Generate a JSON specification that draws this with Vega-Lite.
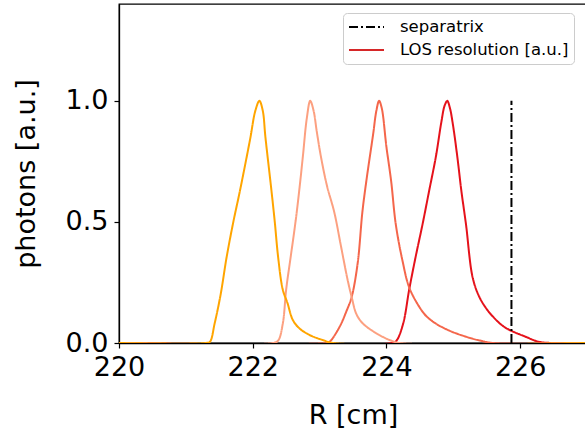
{
  "$schema": "https://vega.github.io/schema/vega-lite/v6.json",
  "width": 468,
  "height": 339,
  "autosize": {"type": "none"},
  "padding": {"left": 119, "top": 4, "right": 0, "bottom": 91},
  "background": "white",
  "config": {
    "font": "DejaVu Sans",
    "view": {"stroke": "black", "strokeWidth": 1.3},
    "axis": {
      "grid": false,
      "domainColor": "black",
      "domainWidth": 1.3,
      "tickColor": "black",
      "tickWidth": 1.2,
      "tickSize": 5,
      "labelColor": "black",
      "titleColor": "black",
      "labelFont": "DejaVu Sans",
      "titleFont": "DejaVu Sans",
      "labelFontSize": 27,
      "titleFontSize": 27,
      "titleFontWeight": "normal",
      "labelFlush": false,
      "labelOverlap": false
    },
    "legend": {
      "title": null,
      "orient": "none",
      "legendX": 224,
      "legendY": 9,
      "symbolType": "M-1,0H3.375",
      "symbolSize": 256,
      "symbolStrokeWidth": 2,
      "labelFontSize": 16.5,
      "labelFont": "DejaVu Sans",
      "labelColor": "black",
      "labelLimit": 400,
      "labelOffset": 34,
      "rowPadding": 5,
      "padding": 5,
      "strokeColor": "#cccccc",
      "fillColor": "white",
      "cornerRadius": 4
    }
  },
  "layer": [
    {
      "data": {
        "values": [
          {"R": 220, "y": 0, "series": "o4"},
          {"R": 224.08, "y": 0, "series": "o4"},
          {"R": 224.15, "y": 0.01, "series": "o4"},
          {"R": 224.25, "y": 0.08, "series": "o4"},
          {"R": 224.34, "y": 0.22, "series": "o4"},
          {"R": 224.44, "y": 0.36, "series": "o4"},
          {"R": 224.54, "y": 0.49, "series": "o4"},
          {"R": 224.64, "y": 0.63, "series": "o4"},
          {"R": 224.74, "y": 0.77, "series": "o4"},
          {"R": 224.82, "y": 0.91, "series": "o4"},
          {"R": 224.87, "y": 0.98, "series": "o4"},
          {"R": 224.91, "y": 1.0, "series": "o4"},
          {"R": 224.95, "y": 0.97, "series": "o4"},
          {"R": 224.99, "y": 0.91, "series": "o4"},
          {"R": 225.06, "y": 0.77, "series": "o4"},
          {"R": 225.12, "y": 0.63, "series": "o4"},
          {"R": 225.19, "y": 0.49, "series": "o4"},
          {"R": 225.29, "y": 0.27, "series": "o4"},
          {"R": 225.39, "y": 0.19, "series": "o4"},
          {"R": 225.5, "y": 0.14, "series": "o4"},
          {"R": 225.59, "y": 0.11, "series": "o4"},
          {"R": 225.72, "y": 0.075, "series": "o4"},
          {"R": 225.84, "y": 0.054, "series": "o4"},
          {"R": 226.08, "y": 0.026, "series": "o4"},
          {"R": 226.28, "y": 0.005, "series": "o4"},
          {"R": 226.5, "y": 0, "series": "o4"},
          {"R": 227, "y": 0, "series": "o4"},

          {"R": 220, "y": 0, "series": "o3"},
          {"R": 223.1, "y": 0, "series": "o3"},
          {"R": 223.15, "y": 0.005, "series": "o3"},
          {"R": 223.3, "y": 0.067, "series": "o3"},
          {"R": 223.4, "y": 0.13, "series": "o3"},
          {"R": 223.48, "y": 0.19, "series": "o3"},
          {"R": 223.57, "y": 0.33, "series": "o3"},
          {"R": 223.64, "y": 0.54, "series": "o3"},
          {"R": 223.7, "y": 0.67, "series": "o3"},
          {"R": 223.8, "y": 0.86, "series": "o3"},
          {"R": 223.85, "y": 0.96, "series": "o3"},
          {"R": 223.89, "y": 1.0, "series": "o3"},
          {"R": 223.93, "y": 0.97, "series": "o3"},
          {"R": 224.0, "y": 0.81, "series": "o3"},
          {"R": 224.07, "y": 0.67, "series": "o3"},
          {"R": 224.14, "y": 0.49, "series": "o3"},
          {"R": 224.24, "y": 0.34, "series": "o3"},
          {"R": 224.34, "y": 0.23, "series": "o3"},
          {"R": 224.49, "y": 0.15, "series": "o3"},
          {"R": 224.6, "y": 0.11, "series": "o3"},
          {"R": 224.74, "y": 0.08, "series": "o3"},
          {"R": 224.95, "y": 0.05, "series": "o3"},
          {"R": 225.19, "y": 0.026, "series": "o3"},
          {"R": 225.4, "y": 0.01, "series": "o3"},
          {"R": 225.6, "y": 0, "series": "o3"},
          {"R": 227, "y": 0, "series": "o3"},

          {"R": 220, "y": 0, "series": "o2"},
          {"R": 222.3, "y": 0, "series": "o2"},
          {"R": 222.38, "y": 0.01, "series": "o2"},
          {"R": 222.45, "y": 0.08, "series": "o2"},
          {"R": 222.5, "y": 0.22, "series": "o2"},
          {"R": 222.57, "y": 0.36, "series": "o2"},
          {"R": 222.64, "y": 0.5, "series": "o2"},
          {"R": 222.7, "y": 0.64, "series": "o2"},
          {"R": 222.75, "y": 0.77, "series": "o2"},
          {"R": 222.81, "y": 0.93, "series": "o2"},
          {"R": 222.86, "y": 1.0, "series": "o2"},
          {"R": 222.91, "y": 0.96, "series": "o2"},
          {"R": 222.96, "y": 0.87, "series": "o2"},
          {"R": 223.02, "y": 0.77, "series": "o2"},
          {"R": 223.11, "y": 0.65, "series": "o2"},
          {"R": 223.22, "y": 0.54, "series": "o2"},
          {"R": 223.32, "y": 0.4, "series": "o2"},
          {"R": 223.42, "y": 0.26, "series": "o2"},
          {"R": 223.48, "y": 0.19, "series": "o2"},
          {"R": 223.55, "y": 0.12, "series": "o2"},
          {"R": 223.65, "y": 0.08, "series": "o2"},
          {"R": 223.85, "y": 0.04, "series": "o2"},
          {"R": 224.05, "y": 0.012, "series": "o2"},
          {"R": 224.2, "y": 0, "series": "o2"},
          {"R": 227, "y": 0, "series": "o2"},

          {"R": 220, "y": 0, "series": "o1"},
          {"R": 221.3, "y": 0, "series": "o1"},
          {"R": 221.36, "y": 0.005, "series": "o1"},
          {"R": 221.43, "y": 0.08, "series": "o1"},
          {"R": 221.52, "y": 0.2, "series": "o1"},
          {"R": 221.61, "y": 0.355, "series": "o1"},
          {"R": 221.71, "y": 0.5, "series": "o1"},
          {"R": 221.81, "y": 0.63, "series": "o1"},
          {"R": 221.96, "y": 0.84, "series": "o1"},
          {"R": 222.04, "y": 0.96, "series": "o1"},
          {"R": 222.1, "y": 1.0, "series": "o1"},
          {"R": 222.15, "y": 0.96, "series": "o1"},
          {"R": 222.19, "y": 0.85, "series": "o1"},
          {"R": 222.28, "y": 0.63, "series": "o1"},
          {"R": 222.33, "y": 0.5, "series": "o1"},
          {"R": 222.38, "y": 0.355, "series": "o1"},
          {"R": 222.45, "y": 0.22, "series": "o1"},
          {"R": 222.52, "y": 0.165, "series": "o1"},
          {"R": 222.6, "y": 0.095, "series": "o1"},
          {"R": 222.7, "y": 0.06, "series": "o1"},
          {"R": 222.85, "y": 0.033, "series": "o1"},
          {"R": 223.05, "y": 0.012, "series": "o1"},
          {"R": 223.2, "y": 0, "series": "o1"},
          {"R": 227, "y": 0, "series": "o1"}
        ]
      },
      "mark": {"type": "line", "strokeWidth": 2, "interpolate": "catmull-rom", "clip": true},
      "encoding": {
        "x": {
          "field": "R", "type": "quantitative",
          "scale": {"domain": [220, 227], "nice": false, "zero": false},
          "axis": {"title": "R [cm]", "values": [220, 222, 224, 226], "format": "d", "labelPadding": 6, "titlePadding": 22}
        },
        "y": {
          "field": "y", "type": "quantitative",
          "scale": {"domain": [0, 1.4], "nice": false},
          "axis": {"title": "photons [a.u.]", "values": [0, 0.5, 1.0], "format": ".1f", "labelPadding": 6, "titlePadding": 25}
        },
        "color": {
          "field": "series", "type": "nominal",
          "scale": {
            "domain": ["separatrix", "LOS resolution [a.u.]", "o1", "o2", "o3", "o4"],
            "range": ["#000000", "#d62728", "#ffa500", "#fca080", "#f4664b", "#e5121b"]
          },
          "legend": {"values": ["separatrix", "LOS resolution [a.u.]"]}
        },
        "strokeDash": {
          "field": "series", "type": "nominal",
          "scale": {
            "domain": ["separatrix", "LOS resolution [a.u.]", "o1", "o2", "o3", "o4"],
            "range": [[9, 3, 2, 3], [1, 0], [1, 0], [1, 0], [1, 0], [1, 0]]
          },
          "legend": {"values": ["separatrix", "LOS resolution [a.u.]"]}
        }
      }
    },
    {
      "data": {"values": [{"R": 225.87, "y0": 0, "y1": 1.0, "series": "separatrix"}]},
      "mark": {"type": "rule", "strokeWidth": 2},
      "encoding": {
        "x": {"field": "R", "type": "quantitative"},
        "y": {"field": "y0", "type": "quantitative"},
        "y2": {"field": "y1"},
        "color": {"field": "series", "type": "nominal"},
        "strokeDash": {"field": "series", "type": "nominal"}
      }
    }
  ]
}
